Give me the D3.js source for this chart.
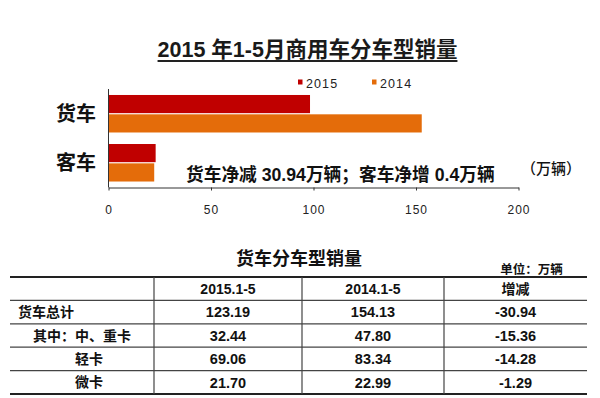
<!DOCTYPE html>
<html><head><meta charset="utf-8">
<script src="https://cdn.jsdelivr.net/npm/d3@7"></script>
<style>
html,body{margin:0;padding:0;background:#fff;}
svg{display:block;}
text{font-family:"Liberation Sans","Noto Sans CJK SC",sans-serif;}
</style></head>
<body>
<svg id="c" width="600" height="398"></svg>
<script>
// ---- data ----
const categories = ["货车", "客车"];
const series = ["2015", "2014"];
const values2015 = [98.3, 23.0];
const values2014 = [152.8, 22.3];
const xTicks = [0, 50, 100, 150, 200];
const titleText = "2015 年1-5月商用车分车型销量";
const noteText = "货车净减 30.94万辆；客车净增 0.4万辆";
const unitText = "（万辆）";
const tableTitle = "货车分车型销量";
const tableUnit = "单位：万辆";
const tableHeaders = ["", "2015.1-5", "2014.1-5", "增减"];
const rowLabels = ["货车总计", "其中：中、重卡", "轻卡", "微卡"];
const col2015 = ["123.19", "32.44", "69.06", "21.70"];
const col2014 = ["154.13", "47.80", "83.34", "22.99"];
const colChange = ["-30.94", "-15.36", "-14.28", "-1.29"];

// ---- drawing ----
const svg = d3.select("#c");
const colors = d3.scaleOrdinal().domain(series).range(["#C00000", "#E46C0A"]);

// title
const title = svg.append("text")
  .attr("x", 307.5).attr("y", 56.7)
  .attr("text-anchor", "middle")
  .attr("font-size", 21.5).attr("font-weight", "bold").attr("fill", "#1a1a1a")
  .text(titleText);
const tl = title.node().getComputedTextLength();
svg.append("line")
  .attr("x1", 307.5 - tl / 2).attr("x2", 307.5 + tl / 2)
  .attr("y1", 61).attr("y2", 61)
  .attr("stroke", "#222").attr("stroke-width", 2);

// scales
const x = d3.scaleLinear().domain([0, 200]).range([108.5, 518.5]);
const y = d3.scaleBand().domain(categories).range([89, 187.5]).paddingInner(0.235).paddingOuter(0.122);
const ys = d3.scaleBand().domain(series).range([0, y.bandwidth()]).paddingInner(0.06);

const rows = categories.map((c, i) => ({cat: c, vals: [values2015[i], values2014[i]]}));
const g = svg.append("g");
rows.forEach(r => {
  series.forEach((s, j) => {
    g.append("rect")
      .attr("x", x(0))
      .attr("y", y(r.cat) + ys(s))
      .attr("width", x(r.vals[j]) - x(0))
      .attr("height", ys.bandwidth())
      .attr("fill", colors(s));
  });
});

// category labels
categories.forEach(c => {
  svg.append("text")
    .attr("x", 96).attr("y", y(c) + y.bandwidth() / 2)
    .attr("dy", "0.36em")
    .attr("text-anchor", "end")
    .attr("font-size", 20).attr("font-weight", "bold").attr("fill", "#111")
    .text(c);
});

// axes
svg.append("line").attr("x1", x(0)).attr("x2", x(0)).attr("y1", 89).attr("y2", 187.5)
  .attr("stroke", "#333").attr("stroke-width", 1);
const axis = d3.axisBottom(x).tickValues(xTicks).tickSizeInner(3).tickSizeOuter(0).tickPadding(15);
const ax = svg.append("g").attr("transform", "translate(0,187.5)").call(axis);
ax.select(".domain").attr("stroke", "#333");
ax.selectAll(".tick line").attr("stroke", "#333");
ax.selectAll(".tick text")
  .attr("font-family", "'Liberation Sans', sans-serif")
  .attr("font-size", 12).attr("fill", "#222").attr("letter-spacing", "1px");

// legend
const legX = [298, 372];
series.forEach((s, i) => {
  svg.append("rect").attr("x", legX[i]).attr("y", 79.5).attr("width", 4.5).attr("height", 5).attr("fill", colors(s));
  svg.append("text").attr("x", legX[i] + 8).attr("y", 87.5)
    .attr("font-size", 12.5).attr("letter-spacing", "1.1px").attr("fill", "#222").text(s);
});

// note
svg.append("text").attr("x", 186).attr("y", 181)
  .attr("font-size", 17.7).attr("font-weight", "bold").attr("fill", "#111").text(noteText);
svg.append("text").attr("x", 551).attr("y", 173.5).attr("text-anchor", "middle")
  .attr("font-size", 15).attr("fill", "#111").attr("font-weight", 500).text(unitText);

// table
svg.append("text").attr("x", 299).attr("y", 264.5).attr("text-anchor", "middle")
  .attr("font-size", 18).attr("font-weight", "bold").attr("fill", "#111").text(tableTitle);
svg.append("text").attr("x", 531.5).attr("y", 273.5).attr("text-anchor", "middle")
  .attr("font-size", 12.5).attr("font-weight", "bold").attr("fill", "#111").text(tableUnit);

const colEdges = [10, 154, 302, 444, 587];
const rowIdx = d3.range(rowLabels.length + 1);
const ty = d3.scaleBand().domain(rowIdx).range([277, 394]);
const tg = svg.append("g");
// horizontal lines
d3.range(rowIdx.length + 1).forEach(k => {
  const yy = 277 + k * ty.step();
  const outer = (k === 0 || k === rowIdx.length);
  tg.append("line").attr("x1", colEdges[0]).attr("x2", colEdges[4]).attr("y1", yy).attr("y2", yy)
    .attr("stroke", outer ? "#222" : "#444").attr("stroke-width", outer ? 1.8 : 1.2);
});
// vertical lines
[1, 2, 3].forEach(k => {
  tg.append("line").attr("x1", colEdges[k]).attr("x2", colEdges[k]).attr("y1", 277).attr("y2", 394)
    .attr("stroke", "#444").attr("stroke-width", 1.2);
});
const colCenter = k => (colEdges[k] + colEdges[k + 1]) / 2;
// header
tableHeaders.forEach((h, k) => {
  if (!h) return;
  tg.append("text").attr("x", colCenter(k)).attr("y", ty(0) + ty.bandwidth() / 2).attr("dy", "0.36em")
    .attr("text-anchor", "middle").attr("font-size", 14).attr("font-weight", "bold").attr("fill", "#111").text(h);
});
const labelX = [18, 33, 75, 75];
const cols = [col2015, col2014, colChange];
rowLabels.forEach((lab, i) => {
  const cy = ty(i + 1) + ty.bandwidth() / 2;
  tg.append("text").attr("x", labelX[i]).attr("y", cy).attr("dy", "0.36em")
    .attr("font-size", 14).attr("font-weight", "bold").attr("fill", "#111").text(lab);
  cols.forEach((col, k) => {
    tg.append("text").attr("x", colCenter(k + 1)).attr("y", cy).attr("dy", "0.36em")
      .attr("text-anchor", "middle").attr("font-size", 14.5).attr("font-weight", "bold").attr("fill", "#111").text(col[i]);
  });
});
</script>
</body></html>
